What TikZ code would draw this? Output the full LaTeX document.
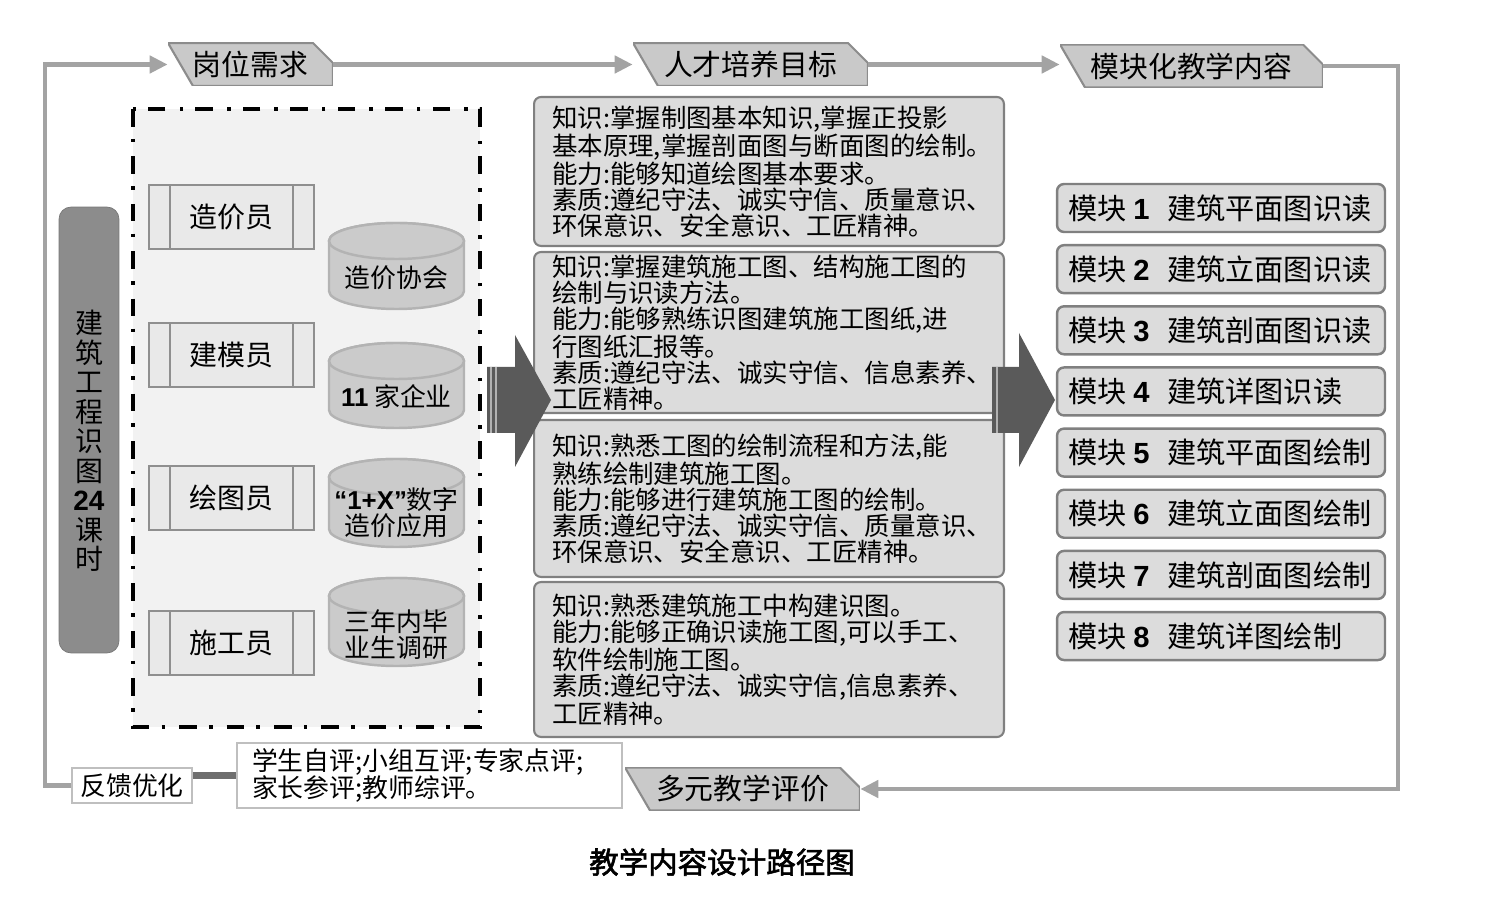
\documentclass[tikz,border=0pt]{standalone}
\usepackage{fontspec}
\setmainfont{Noto Sans CJK SC}[AutoFakeBold=2]
\newfontfamily\numf{Liberation Sans}
\usetikzlibrary{arrows.meta, positioning}

\definecolor{loopgray}{HTML}{A3A3A3}
\definecolor{bannerfill}{HTML}{C9C9C9}
\definecolor{bannerline}{HTML}{8C8C8C}
\definecolor{poolfill}{HTML}{F2F2F2}
\definecolor{rolefill}{HTML}{E9E9E9}
\definecolor{roleline}{HTML}{8F8F8F}
\definecolor{cylfill}{HTML}{CBCBCB}
\definecolor{cylline}{HTML}{B3B3B3}
\definecolor{boxfill}{HTML}{DCDCDC}
\definecolor{boxline}{HTML}{808080}
\definecolor{bigarrow}{HTML}{5A5A5A}
\definecolor{barfill}{HTML}{8C8C8C}
\definecolor{fbgray}{HTML}{6E6E6E}

\newcommand\fsban{\fontsize{16.4}{18}\selectfont}
\newcommand\fsrole{\fontsize{15.9}{18}\selectfont}
\newcommand\fscyl{\fontsize{14.7}{14.9}\selectfont}
\newcommand\fsgoal{\fontsize{14.5}{14.8}\selectfont}
\newcommand\fsmod{\fontsize{16.6}{18}\selectfont}
\newcommand\fsbar{\fontsize{15.9}{16.8}\selectfont}
\newcommand\fseval{\fontsize{14.7}{15.3}\selectfont}

\tikzset{
  loopline/.style={draw=loopgray, line width=2.8pt},
  looparrow/.style={loopline, -{Triangle[length=0.36cm, width=0.34cm]}},
  banner/.style={minimum height=0.86cm, inner sep=0pt, font=\fsban, fill=white,
    path picture={
      \draw[draw=bannerline, fill=bannerfill, line width=1.2pt]
        (path picture bounding box.north west)
        -- ([xshift=-0.4cm]path picture bounding box.north east)
        -- ([yshift=-0.4cm]path picture bounding box.north east)
        -- (path picture bounding box.south east)
        -- ([xshift=0.5cm]path picture bounding box.south west) -- cycle;
    }},
  rolebox/.style={draw=roleline, fill=rolefill, line width=1pt, font=\fsrole,
    minimum width=3.3cm, minimum height=1.28cm, inner sep=0pt,
    path picture={
      \draw[roleline, line width=1pt]
        ([xshift=0.42cm]path picture bounding box.north west) -- ([xshift=0.42cm]path picture bounding box.south west)
        ([xshift=-0.42cm]path picture bounding box.north east) -- ([xshift=-0.42cm]path picture bounding box.south east);
    }},
  dbcyl/.style={draw=cylline, fill=cylfill, line width=1.4pt},
  goalbox/.style={draw=boxline, fill=boxfill, line width=1.2pt, rounded corners=0.14cm,
    font=\fsgoal, text width=8.68cm, inner xsep=0.36cm, inner ysep=0pt, align=left},
  modbox/.style={draw=boxline, fill=boxfill, line width=1.4pt, rounded corners=0.14cm,
    font=\fsmod, text width=6.12cm, inner xsep=0.22cm, minimum height=0.96cm, align=left},
}

\begin{document}
\begin{tikzpicture}[x=0.02cm, y=-0.02cm]

\useasboundingbox (0,0) rectangle (1487,911);

% Banners on the loop
\node[banner, minimum width=3.3cm] (need) at (250.5,64.5) {岗位需求};
\node[banner, minimum width=4.7cm] (goal) at (750.5,64.5) {人才培养目标};
\node[banner, minimum width=5.26cm] (module) at (1191.5,66) {模块化教学内容};
\node[banner, minimum width=4.7cm] (assess) at (742.5,789) {多元教学评价};

% Course bar
\node[draw=barfill!85!black, fill=barfill, rounded corners=0.24cm, minimum width=1.2cm, minimum height=8.92cm] (course) at (89,430) {};
\node[font=\fsbar, align=center, inner sep=0pt] (coursetxt) at (89,441) {建\\筑\\工\\程\\识\\图\\{\numf\bfseries 24}\\课\\时};

% Dash-dot frame around roles and sources
\draw[fill=poolfill, line width=2.2pt, dash pattern=on 10pt off 7pt on 2pt off 8pt] (133,109) rectangle (480,727);

% Roles
\foreach \n/\y/\txt in {zjy/217/造价员, jmy/355/建模员, hty/498/绘图员, sgy/643/施工员}
  \node[rolebox] (\n) at (231.5,\y) {\txt};

% Sources (cylinders)
\foreach \t/\b in {223/309, 343/428, 459/547, 578/666}{
  \draw[dbcyl] (329,\t+18) -- (329,\b-18) arc[start angle=180, end angle=0, x radius=67.5, y radius=18]
    -- (464,\t+18) arc[start angle=0, end angle=-180, x radius=67.5, y radius=18] -- cycle;
  \draw[dbcyl] (396.5,\t+18) ellipse[x radius=67.5, y radius=18];
}
\node[font=\fscyl] (assoc) at (396.5,278) {造价协会};
\node[font=\fscyl] (firms) at (396.5,397) {{\numf\bfseries 11} 家企业};
\node[font=\fscyl, align=center] (onex) at (396.5,513) {{\numf\bfseries “1+X”}数字\\造价应用};
\node[font=\fscyl, align=center] (grads) at (396.5,635) {三年内毕\\业生调研};

% Training goals
\node[goalbox, minimum height=2.98cm] (goal1) at (769,171.5) {知识:掌握制图基本知识,掌握正投影\\基本原理,掌握剖面图与断面图的绘制。\\能力:能够知道绘图基本要求。\\素质:遵纪守法、诚实守信、质量意识、\\环保意识、安全意识、工匠精神。};
\node[goalbox, minimum height=3.22cm] (goal2) at (769,332.5) {知识:掌握建筑施工图、结构施工图的\\绘制与识读方法。\\能力:能够熟练识图建筑施工图纸,进\\行图纸汇报等。\\素质:遵纪守法、诚实守信、信息素养、\\工匠精神。};
\node[goalbox, minimum height=3.14cm] (goal3) at (769,498.5) {知识:熟悉工图的绘制流程和方法,能\\熟练绘制建筑施工图。\\能力:能够进行建筑施工图的绘制。\\素质:遵纪守法、诚实守信、质量意识、\\环保意识、安全意识、工匠精神。};
\node[goalbox, minimum height=3.1cm] (goal4) at (769,659.5) {知识:熟悉建筑施工中构建识图。\\能力:能够正确识读施工图,可以手工、\\软件绘制施工图。\\素质:遵纪守法、诚实守信,信息素养、\\工匠精神。};

% Big arrows
\fill[bigarrow] (487,367) -- (515,367) -- (515,335) -- (551,400) -- (515,467) -- (515,433) -- (487,433) -- cycle;
\draw[gray!60, line width=0.6pt] (491,367) -- (491,433) (496,367) -- (496,433);
\fill[bigarrow] (992,367) -- (1019,367) -- (1019,333) -- (1055,400) -- (1019,467) -- (1019,433) -- (992,433) -- cycle;
\draw[gray!60, line width=0.6pt] (997,367) -- (997,433);

% Modules
\foreach \i/\txt in {1/建筑平面图识读, 2/建筑立面图识读, 3/建筑剖面图识读, 4/建筑详图识读,
                     5/建筑平面图绘制, 6/建筑立面图绘制, 7/建筑剖面图绘制, 8/建筑详图绘制}
  \node[modbox] (mod\i) at (1221,{208+61.15*(\i-1)}) {模块\hspace{4pt}{\numf\bfseries\i}\hspace{10pt}\txt};

% Evaluation and feedback
\node[draw=gray!50, fill=white, line width=1pt, font=\fseval, text width=7.1cm, inner xsep=0.3cm,
  minimum height=1.22cm, align=left] (evalbox) at (429.5,775.5) {学生自评;小组互评;专家点评;\\家长参评;教师综评。};
\node[draw=gray!50, fill=white, line width=1pt, font=\fseval, minimum width=2.4cm, minimum height=0.7cm,
  inner sep=0pt] (feedback) at (132,785.5) {反馈优化};

% Loop connectors
\coordinate (lcorner) at (45,785.5);
\coordinate (rcorner) at (1398,789);
\draw[looparrow] (feedback.west) -- (lcorner) |- (need.west);
\draw[looparrow] (need.east) -- (need.east -| goal.west);
\draw[looparrow] (goal.east) -- (goal.east -| module.west);
\draw[looparrow] (module.east) -| (rcorner) -- (assess.east);
\draw[draw=fbgray, line width=4pt] (evalbox.west) -- (evalbox.west -| feedback.east);

% Caption
\node[font=\fontsize{16.8}{18}\selectfont\bfseries] (title) at (722,862) {教学内容设计路径图};

\end{tikzpicture}
\end{document}
